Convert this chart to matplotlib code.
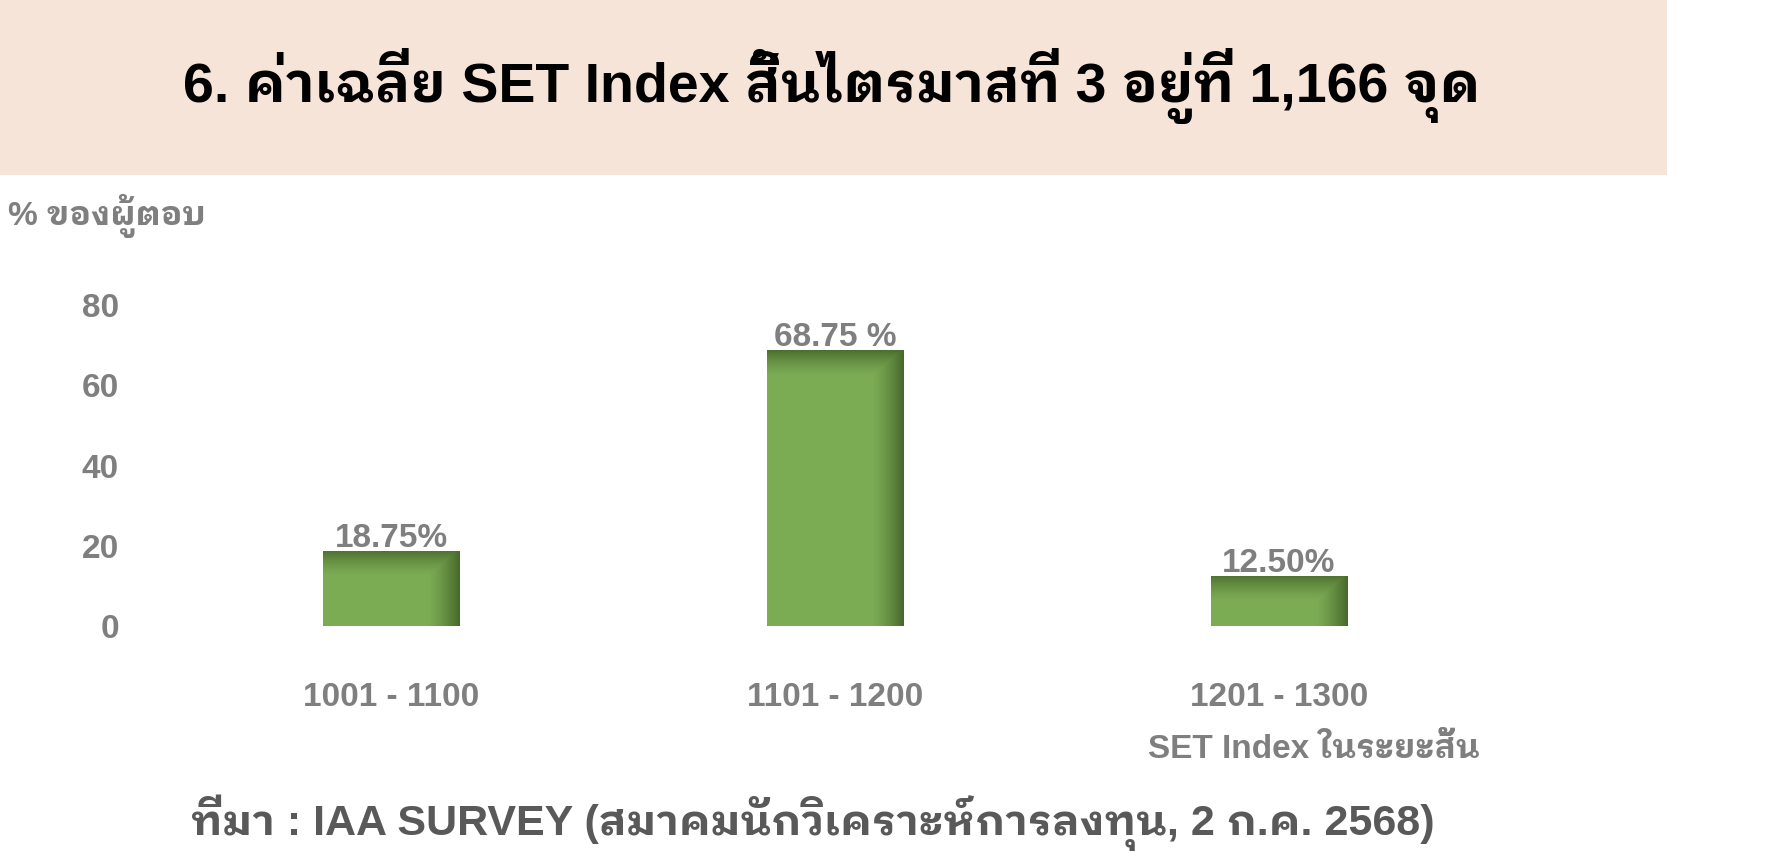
import numpy as np
import matplotlib
matplotlib.use("Agg")
import matplotlib.pyplot as plt
from matplotlib.patches import Rectangle

categories = ["1001 - 1100", "1101 - 1200", "1201 - 1300"]
values = [18.75, 68.75, 12.50]
value_labels = ["18.75%", "68.75 %", "12.50%"]
yticks = [0, 20, 40, 60, 80]

title = "6. ค่าเฉลี่ย SET Index สิ้นไตรมาสที่ 3 อยู่ที่ 1,166 จุด"
ylabel = "% ของผู้ตอบ"
xlabel = "SET Index ในระยะสั้น"
source = "ที่มา : IAA SURVEY (สมาคมนักวิเคราะห์การลงทุน, 2 ก.ค. 2568)"

FAM = ["Liberation Sans", "IBM Plex Sans Thai Looped", "DejaVu Sans"]
GREY = "#7f7f7f"

W, H = 1766, 866
fig = plt.figure(figsize=(W / 100, H / 100), dpi=100)

def fx(px):
    return px / W

def fy(py):
    return 1 - py / H

# title band
fig.patches.append(Rectangle((0, fy(175)), fx(1667), 175 / H, transform=fig.transFigure,
                             facecolor="#f7e4d8", edgecolor="none", zorder=0))
fig.text(fx(832), fy(102), title, ha="center", va="baseline", fontsize=40,
         fontweight="bold", family=FAM, color="black")

ax = fig.add_axes([fx(169), fy(626), 1332 / W, 321 / H])
x = np.arange(len(categories))
bars = ax.bar(x, values, width=0.307, color="#7cac55", zorder=2)

# shaded look of the bars
base = np.array([0.486, 0.675, 0.333])
dark = np.array([0.28, 0.41, 0.17])
for b in bars:
    x0, w, top = b.get_x(), b.get_width(), b.get_height()
    u = np.linspace(0, 1, 200)[None, :]
    yy = np.linspace(0, top, 300)[:, None]
    right = np.clip((u - 0.76) / 0.24, 0, 1) ** 1.4
    topb = np.clip((yy - (top - 6.5)) / 6.5, 0, 1) ** 1.4
    d = np.maximum(right, topb * 0.9)
    img = base * (1 - d[..., None]) + dark * d[..., None]
    im = ax.imshow(img, extent=(x0, x0 + w, 0, top), origin="lower", aspect="auto", zorder=3)
    im.set_clip_path(b)

for xi, v, lab in zip(x, values, value_labels):
    ax.annotate(lab, (xi, v), xytext=(0, -2), textcoords="offset points", ha="center",
                va="bottom", fontsize=24, fontweight="bold", color=GREY, family=FAM)

ax.set_xlim(-0.5, 2.5)
ax.set_ylim(0, 80)
ax.set_yticks(yticks)
ax.set_xticks(x)
ax.set_xticklabels(categories)
for s in ax.spines.values():
    s.set_visible(False)
ax.tick_params(axis="both", length=0, labelsize=24, labelcolor=GREY)
ax.tick_params(axis="y", pad=36)
ax.tick_params(axis="x", pad=40)
for t in ax.get_xticklabels() + ax.get_yticklabels():
    t.set_fontweight("bold")
    t.set_family(FAM)

fig.text(fx(8), fy(225), ylabel, ha="left", va="baseline", fontsize=24,
         fontweight="bold", family=FAM, color=GREY)
fig.text(fx(1480), fy(758), xlabel, ha="right", va="baseline", fontsize=24,
         fontweight="bold", family=FAM, color=GREY)
fig.text(fx(813), fy(835), source, ha="center", va="baseline", fontsize=31,
         fontweight="bold", family=FAM, color="#595959")

fig.savefig("out.png")
